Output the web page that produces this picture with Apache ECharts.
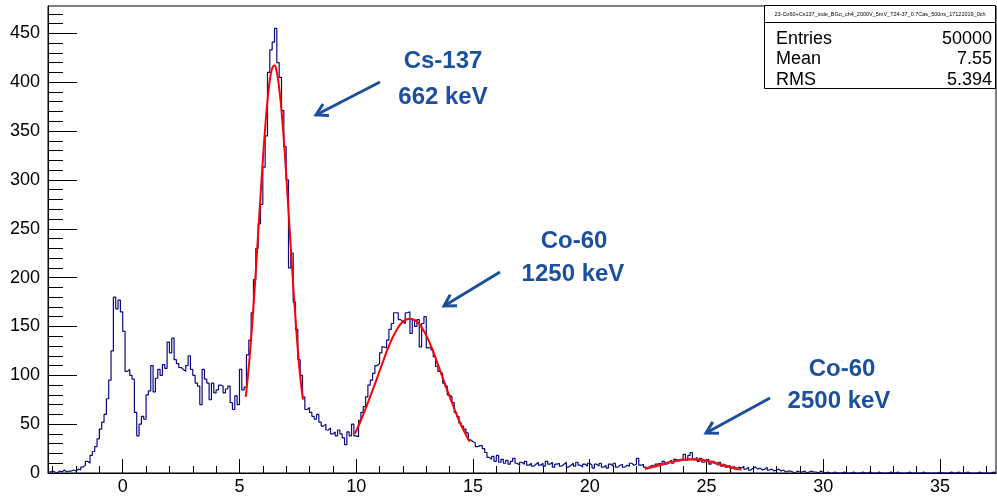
<!DOCTYPE html>
<html><head><meta charset="utf-8">
<script src="https://cdn.jsdelivr.net/npm/echarts@6/dist/echarts.min.js"></script>
<style>html,body{margin:0;padding:0;background:#fff}#c{width:997px;height:497px}</style>
</head><body><div id="c"></div>
<script>
// Histogram binning (x axis units)
const xMin = -3.2, xMax = 37.4, binWidth = 0.1;
const yMin = 0, yMax = 478;

// Bin contents, first bin starts at xMin
const counts = [
  1, 2,
  1, 0, 2, 1, 3, 1, 2, 2, 3, 2,            // -3.0 .. -2.1
  4, 3, 6, 8, 12, 10, 18, 22, 27, 35,       // -2.0 .. -1.1
  45, 52, 60, 76, 95, 125, 180, 168, 177, 165, // -1.0 .. -0.1
  145, 104, 106, 100, 96, 62, 38, 50, 58, 55,  // 0.0 .. 0.9
  80, 84, 110, 83, 97, 106, 100, 111, 107, 134, // 1
  123, 138, 116, 112, 108, 106, 104, 110, 120, 106, // 2
  100, 92, 89, 70, 106, 96, 92, 75, 92, 82,   // 3
  85, 90, 89, 82, 86, 89, 72, 65, 79, 70,     // 4
  106, 85, 88, 121, 136, 164, 198, 230, 255, 275, // 5
  313, 345, 410, 433, 441, 455, 420, 405, 371, 334, // 6
  300, 210, 225, 175, 147, 116, 100, 78, 65, 67,  // 7
  62, 58, 55, 60, 52, 48, 50, 44, 46, 40,     // 8
  42, 38, 44, 40, 36, 29, 42, 38, 50, 38,     // 9
  37, 54, 62, 68, 78, 90, 95, 102, 110, 112,  // 10
  123, 129, 128, 136, 147, 153, 164, 164, 157, 155, // 11
  153, 164, 165, 143, 157, 150, 157, 129, 153, 160, // 12
  128, 129, 126, 119, 109, 104, 102, 92, 89, 80,  // 13
  78, 72, 62, 58, 51, 48, 45, 41, 34, 32,     // 14
  31, 27, 28, 28, 25, 21, 16, 14, 17, 12,     // 15
  18, 11, 14, 10, 13, 9, 12, 15, 10, 8,       // 16
  11, 9, 12, 8, 10, 7, 9, 11, 8, 10,          // 17
  7, 12, 9, 11, 6, 9, 10, 7, 9, 11,           // 18
  6, 8, 10, 7, 11, 8, 6, 9, 7, 10,            // 19
  8, 5, 9, 7, 10, 6, 8, 5, 9, 7,              // 20
  10, 6, 8, 9, 6, 8, 7, 10, 8, 9,             // 21
  15, 8, 9, 6, 5, 7, 8, 6, 9, 10,             // 22
  8, 12, 9, 11, 13, 10, 14, 12, 13, 15,       // 23
  19, 13, 18, 21, 14, 16, 12, 15, 11, 13,     // 24
  14, 9, 12, 10, 8, 11, 7, 9, 6, 8,           // 25
  5, 7, 4, 6, 5, 7, 4, 6, 3, 5,               // 26
  6, 4, 5, 3, 4, 6, 3, 4, 2, 3,               // 27
  4, 2, 3, 1, 2, 2, 1, 0, 2, 1,               // 28
  1, 2, 0, 1, 2, 1, 1, 0, 2, 1,               // 29
  0, 1, 0, 0, 1, 0, 0, 0, 1, 0,               // 30
  0, 0, 1, 0, 0, 0, 1, 0, 0, 1,               // 31
  0, 0, 0, 1, 0, 0, 0, 0, 1, 0,               // 32
  0, 1, 0, 0, 0, 0, 1, 0, 0, 0,               // 33
  0, 0, 1, 0, 0, 0, 0, 0, 0, 1,               // 34
  0, 0, 0, 0, 1, 0, 0, 1, 0, 0,               // 35
  0, 1, 0, 0, 0, 0, 1, 0, 0, 0,               // 36
  0, 0, 1, 0                                  // 37.0 .. 37.3
];

// Fit curves (red)
const fitCsX = [5.27, 5.4, 5.5, 5.6, 5.7, 5.8, 5.9, 6.0, 6.1, 6.2, 6.3, 6.4, 6.5, 6.6, 6.7, 6.8, 6.9, 7.0, 7.1, 7.2, 7.3, 7.4, 7.5, 7.6, 7.72];
const fitCsY = [78, 109, 138, 171, 207, 245, 283, 320, 353, 381, 402, 414, 417, 410, 394, 371, 341, 306, 268, 230, 193, 158, 126, 99, 75];
const fitCo1X = [9.94, 10.2, 10.5, 10.8, 11.1, 11.4, 11.7, 12.0, 12.3, 12.6, 12.9, 13.2, 13.5, 13.8, 14.1, 14.4, 14.7, 14.86];
const fitCo1Y = [40, 54, 72, 91, 111, 130, 145, 155, 158, 155, 145, 130, 111, 91, 72, 54, 39, 32];
const fitCo2X = [22.36, 22.8, 23.2, 23.6, 24.0, 24.35, 24.7, 25.1, 25.5, 25.9, 26.2, 26.5];
const fitCo2Y = [4.3, 6.9, 9.5, 11.9, 13.5, 14, 13.5, 11.9, 9.5, 6.9, 5.1, 3.6];

// Tick values
const xMajorTicks = [0, 5, 10, 15, 20, 25, 30, 35];
const xMinorTicks = [-3, -2, -1, 1, 2, 3, 4, 6, 7, 8, 9, 11, 12, 13, 14, 16, 17, 18, 19, 21, 22, 23, 24, 26, 27, 28, 29, 31, 32, 33, 34, 36, 37];
const yMajorTicks = [0, 50, 100, 150, 200, 250, 300, 350, 400, 450];
const yMinorTicks = [10, 20, 30, 40, 60, 70, 80, 90, 110, 120, 130, 140, 160, 170, 180, 190, 210, 220, 230, 240, 260, 270, 280, 290, 310, 320, 330, 340, 360, 370, 380, 390, 410, 420, 430, 440, 460, 470];

// Stats box
const statsTitle = '23-Co60+Cs137_side_BGo_ch4_2000V_5mV_T24-37_0.7Cas_500ns_17122019_0ch';
const statsNames = ['Entries', 'Mean', 'RMS'];
const statsValues = ['50000', '7.55', '5.394'];

// Annotations
const annLines = [['Cs-137', '662 keV'], ['Co-60', '1250 keV'], ['Co-60', '2500 keV']];

const histData = counts.map((c, i) => [+(xMin + i * binWidth).toFixed(2), c]);
histData.push([+(xMin + counts.length * binWidth).toFixed(2), counts[counts.length - 1]]);
const zip = (a, b) => a.map((v, i) => [v, b[i]]);

const FONT = '"Liberation Sans", Arial, Helvetica, sans-serif';
const BLUE = '#1c4f9c';
const HIST = '#0a0a80';

function arrow(x1, y1, x2, y2) {
  const dx = x2 - x1, dy = y2 - y1, L = Math.hypot(dx, dy);
  const ux = -dx / L, uy = -dy / L, h = 13, c = Math.cos(Math.PI / 6), s = Math.sin(Math.PI / 6);
  const a1 = [x2 + h * (ux * c - uy * s), y2 + h * (ux * s + uy * c)];
  const a2 = [x2 + h * (ux * c + uy * s), y2 + h * (-ux * s + uy * c)];
  return [
    { type: 'line', z: 50, shape: { x1, y1, x2, y2 }, style: { stroke: BLUE, lineWidth: 3 } },
    { type: 'polyline', z: 50, shape: { points: [a1, [x2, y2], a2] }, style: { stroke: BLUE, lineWidth: 3, fill: null } }
  ];
}
function label(text, x, y) {
  return { type: 'text', z: 50, style: { text, x, y, fill: BLUE, font: 'bold 24px ' + FONT, textAlign: 'center', textVerticalAlign: 'middle', align: 'center', verticalAlign: 'middle' } };
}

const graphic = [
  label(annLines[0][0], 443, 61), label(annLines[0][1], 443, 97),
  ...arrow(380, 82, 316, 115),
  label(annLines[1][0], 574, 241), label(annLines[1][1], 573, 274),
  ...arrow(500, 272, 444, 306),
  label(annLines[2][0], 842, 369), label(annLines[2][1], 839, 401),
  ...arrow(770, 398, 706, 433),
  { type: 'rect', z: 60, shape: { x: 764.5, y: 5.5, width: 231, height: 83 }, style: { fill: '#fff', stroke: '#000', lineWidth: 1 } },
  { type: 'line', z: 61, shape: { x1: 764.5, y1: 22.5, x2: 995.5, y2: 22.5 }, style: { stroke: '#000', lineWidth: 1 } },
  { type: 'text', z: 62, style: { text: statsTitle, x: 880, y: 14, fill: '#000', font: '5.5px ' + FONT, textAlign: 'center', textVerticalAlign: 'middle', align: 'center', verticalAlign: 'middle' } },
  ...statsNames.map((n, i) => ({ type: 'text', z: 62, style: { text: n, x: 776, y: 39 + i * 20.5, fill: '#000', font: '18px ' + FONT, textAlign: 'left', textVerticalAlign: 'middle', align: 'left', verticalAlign: 'middle' } })),
  ...statsValues.map((v, i) => ({ type: 'text', z: 62, style: { text: v, x: 992, y: 39 + i * 20.5, fill: '#000', font: '18px ' + FONT, textAlign: 'right', textVerticalAlign: 'middle', align: 'right', verticalAlign: 'middle' } }))
];

const axisBase = { type: 'value', splitLine: { show: false }, minorTick: { show: false } };
const chart = echarts.init(document.getElementById('c'), null, { renderer: 'canvas' });
chart.setOption({
  animation: false,
  backgroundColor: '#fff',
  grid: { left: 48, right: 1, top: 6, bottom: 24, show: true, borderColor: '#000', borderWidth: 1, backgroundColor: 'transparent' },
  xAxis: [
    Object.assign({}, axisBase, { min: xMin, max: xMax, position: 'bottom',
      axisLine: { show: true, onZero: false, lineStyle: { color: '#000', width: 1 } },
      axisTick: { show: true, inside: true, length: 14, customValues: xMajorTicks, lineStyle: { color: '#000' } },
      axisLabel: { show: true, customValues: xMajorTicks, color: '#000', fontSize: 18, fontFamily: FONT, margin: 5 } }),
    Object.assign({}, axisBase, { min: xMin, max: xMax, position: 'bottom',
      axisLine: { show: false, onZero: false },
      axisTick: { show: true, inside: true, length: 7, customValues: xMinorTicks, lineStyle: { color: '#000' } },
      axisLabel: { show: false } })
  ],
  yAxis: [
    Object.assign({}, axisBase, { min: yMin, max: yMax, position: 'left',
      axisLine: { show: true, onZero: false, lineStyle: { color: '#000', width: 1 } },
      axisTick: { show: true, inside: true, length: 29, customValues: yMajorTicks, lineStyle: { color: '#000' } },
      axisLabel: { show: true, customValues: yMajorTicks, color: '#000', fontSize: 18, fontFamily: FONT, margin: 8 } }),
    Object.assign({}, axisBase, { min: yMin, max: yMax, position: 'left',
      axisLine: { show: false, onZero: false },
      axisTick: { show: true, inside: true, length: 15, customValues: yMinorTicks, lineStyle: { color: '#000' } },
      axisLabel: { show: false } })
  ],
  series: [
    { type: 'line', name: 'hist', xAxisIndex: 0, yAxisIndex: 0, step: 'end', data: histData, showSymbol: false, symbol: 'none',
      lineStyle: { color: HIST, width: 1.2 }, z: 5 },
    { type: 'line', name: 'fitCs', data: zip(fitCsX, fitCsY), smooth: true, showSymbol: false, symbol: 'none', lineStyle: { color: '#ff0000', width: 2 }, z: 6 },
    { type: 'line', name: 'fitCo1', data: zip(fitCo1X, fitCo1Y), smooth: true, showSymbol: false, symbol: 'none', lineStyle: { color: '#ff0000', width: 2 }, z: 6 },
    { type: 'line', name: 'fitCo2', data: zip(fitCo2X, fitCo2Y), smooth: true, showSymbol: false, symbol: 'none', lineStyle: { color: '#e8141e', width: 2.5 }, z: 6 }
  ],
  graphic
});
</script>
</body></html>
